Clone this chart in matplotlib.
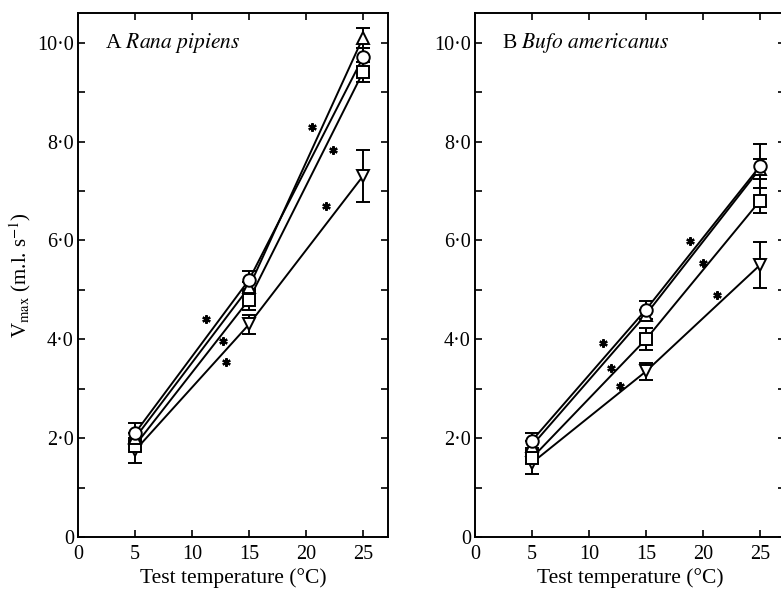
import matplotlib
matplotlib.use("Agg")
import matplotlib.pyplot as plt
from matplotlib.ticker import MultipleLocator, FixedLocator, FixedFormatter

plt.rcParams['font.family'] = ['Liberation Serif', 'DejaVu Serif']
plt.rcParams['mathtext.fontset'] = 'stix'

temps = [5, 15, 25]

# Panel A: Rana pipiens
a_circle = [2.1, 5.2, 9.7]
a_circle_err = [0.2, 0.18, 0.2]
a_tri_up = [2.0, 5.05, 10.1]
a_tri_up_err = [0.1, 0.1, 0.2]
a_square = [1.85, 4.8, 9.4]
a_square_err = [0.1, 0.2, 0.2]
a_tri_down = [1.75, 4.3, 7.3]
a_tri_down_err = [0.25, 0.2, 0.52]
a_star_x = [11.2, 12.7, 13.0, 20.5, 22.4, 21.8]
a_star_y = [4.4, 3.96, 3.54, 8.3, 7.82, 6.69]

# Panel B: Bufo americanus
b_circle = [1.95, 4.6, 7.5]
b_circle_err = [0.15, 0.18, 0.45]
b_tri_up = [1.85, 4.5, 7.45]
b_tri_up_err = [0.1, 0.1, 0.2]
b_square = [1.6, 4.0, 6.8]
b_square_err = [0.1, 0.22, 0.25]
b_tri_down = [1.5, 3.35, 5.5]
b_tri_down_err = [0.22, 0.17, 0.47]
b_star_x = [11.2, 11.9, 12.7, 18.9, 20.0, 21.2]
b_star_y = [3.92, 3.42, 3.05, 5.98, 5.55, 4.89]

x_ticks = [0, 5, 10, 15, 20, 25]
y_ticks = [0, 2, 4, 6, 8, 10]
y_tick_labels = ['0', '2·0', '4·0', '6·0', '8·0', '10·0']

fig = plt.figure(figsize=(7.81, 5.89), dpi=100)
axA = fig.add_axes([78/781, 52/589, 310/781, 524/589])
axB = fig.add_axes([475/781, 52/589, 310/781, 524/589])


def draw(ax, series, stars_x, stars_y, label):
    markers = ['o', '^', 's', 'v']
    order = [3, 2, 1, 0]
    for idx in order:
        vals, errs = series[idx]
        ax.errorbar(temps, vals, yerr=errs, fmt='none', ecolor='black',
                    elinewidth=1.4, capsize=5, capthick=1.4, zorder=2)
    for idx in order:
        vals, errs = series[idx]
        ax.plot(temps, vals, '-', color='black', lw=1.4, zorder=3)
    for idx in order:
        vals, errs = series[idx]
        ax.plot(temps, vals, linestyle='none', marker=markers[idx], ms=9,
                mfc='white', mec='black', mew=1.4, zorder=4)
    ax.plot(stars_x, stars_y, linestyle='none', marker=(6, 2, 0), ms=6,
            color='black', mew=1.6, zorder=5)
    ax.set_xlim(0, 27.2)
    ax.set_ylim(0, 10.6)
    ax.xaxis.set_major_locator(FixedLocator(x_ticks))
    ax.yaxis.set_major_locator(FixedLocator(y_ticks))
    ax.yaxis.set_major_formatter(FixedFormatter(y_tick_labels))
    ax.yaxis.set_minor_locator(MultipleLocator(1))
    ax.tick_params(which='both', direction='in', top=True, right=True,
                   length=5, width=1.2, labelsize=14.5)
    ax.tick_params(axis='y', pad=3)
    ax.tick_params(axis='x', pad=6)
    for s in ax.spines.values():
        s.set_linewidth(1.4)
    ax.set_xlabel('Test temperature (°C)', fontsize=15.5, labelpad=3)
    ax.text(label[0], 10.0, label[1], fontsize=15.5, va='center', ha='left')


draw(axA, [(a_circle, a_circle_err), (a_tri_up, a_tri_up_err),
           (a_square, a_square_err), (a_tri_down, a_tri_down_err)],
     a_star_x, a_star_y, (2.4, r'A $\mathit{Rana\ pipiens}$'))
draw(axB, [(b_circle, b_circle_err), (b_tri_up, b_tri_up_err),
           (b_square, b_square_err), (b_tri_down, b_tri_down_err)],
     b_star_x, b_star_y, (2.4, r'B $\mathit{Bufo\ americanus}$'))

axA.set_ylabel(r'V$_{\mathrm{max}}$ (m.l. s$^{-1}$)', fontsize=15)
axA.yaxis.set_label_coords(-0.145, 0.5)

fig.savefig('out.png', dpi=100)
